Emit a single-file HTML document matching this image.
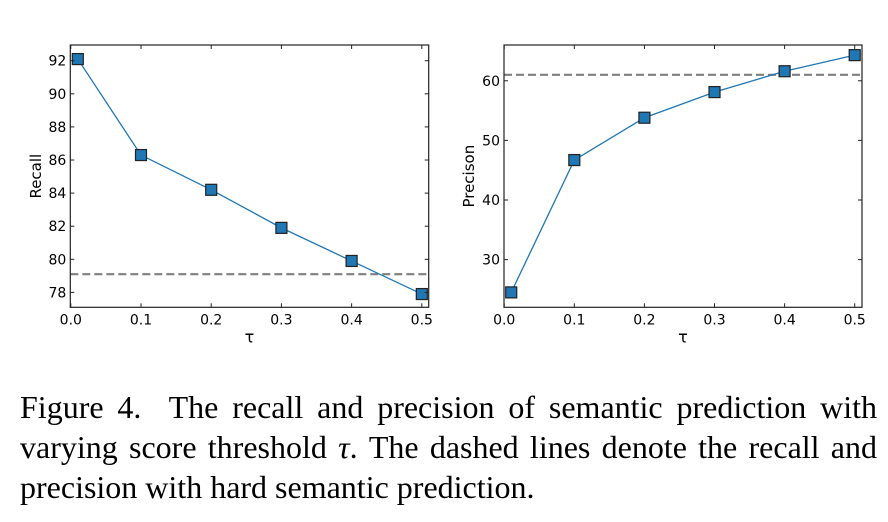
<!DOCTYPE html>
<html><head><meta charset="utf-8"><style>
body{margin:0;background:#fff;width:888px;height:522px;overflow:hidden;position:relative}
svg{position:absolute;left:0;top:0}
.cap{position:absolute;left:20px;width:857px;font-family:"Liberation Serif",serif;font-size:32px;color:#000;text-align:justify;text-align-last:justify;white-space:nowrap;line-height:34px}
.cap.last{text-align-last:left}
text{font-family:"DejaVu Sans","Liberation Sans",sans-serif}
</style></head><body>
<svg width="888" height="522"></svg>
<div class="cap" style="top:390px">Figure 4.&nbsp; The recall and precision of semantic prediction with</div>
<div class="cap" style="top:430px">varying score threshold <i>τ</i>. The dashed lines denote the recall and</div>
<div class="cap last" style="top:470px">precision with hard semantic prediction.</div>
<script>
const tau=[0.01,0.1,0.2,0.3,0.4,0.5];
const recall=[92.1,86.3,84.2,81.9,79.9,77.9];
const recallHard=79.1;
const precision=[24.5,46.7,53.8,58.1,61.6,64.3];
const precisionHard=61.0;
const xTicks=[0.0,0.1,0.2,0.3,0.4,0.5];
const recallTicks=[78,80,82,84,86,88,90,92];
const precisionTicks=[30,40,50,60];
const NS='http://www.w3.org/2000/svg';
const svg=document.querySelector('svg');
function mk(tag,attrs,parent){const e=document.createElementNS(NS,tag);for(const k in attrs)e.setAttribute(k,attrs[k]);(parent||svg).appendChild(e);return e;}
function chart(cfg){
  const g=mk('g',{});
  
  
  const L=cfg.left,R=cfg.right,T=45,B=307.3;
  const xs=v=>L+(v-cfg.x0)/(cfg.x1-cfg.x0)*(R-L);
  const ys=v=>B-(v-cfg.y0)/(cfg.y1-cfg.y0)*(B-T);
  const dash=mk('line',{x1:L,x2:R,y1:ys(cfg.hard),y2:ys(cfg.hard),stroke:'#7f7f7f','stroke-width':2.2,'stroke-dasharray':'8,4'},g);
  
  
  const pts=cfg.ys.map((v,i)=>xs(tau[i])+','+ys(v)).join(' ');
  const line=mk('polyline',{points:pts,fill:'none',stroke:'#1f77b4','stroke-width':1.3},g);
  
  
  cfg.ys.forEach((v,i)=>{
    const r=mk('rect',{x:xs(tau[i])-5.5,y:ys(v)-5.5,width:11,height:11,fill:'#1f77b4',stroke:'#222','stroke-width':1.2},g);
    
    
  });
  const fr=mk('rect',{x:L,y:T,width:R-L,height:B-T,fill:'none',stroke:'#222','stroke-width':1.2},g);
  
  
  xTicks.forEach(t=>{
    const x=xs(t);
    mk('line',{x1:x,x2:x,y1:B,y2:B-4,stroke:'#222'},g);
    mk('line',{x1:x,x2:x,y1:T,y2:T+4,stroke:'#222'},g);
    const tx=mk('text',{x:x,y:B+17,'text-anchor':'middle','font-size':14,fill:'#000'},g);
    tx.textContent=t.toFixed(1);
    
    
  });
  cfg.ticks.forEach(t=>{
    const y=ys(t);
    mk('line',{x1:L,x2:L+4,y1:y,y2:y,stroke:'#222'},g);
    mk('line',{x1:R,x2:R-4,y1:y,y2:y,stroke:'#222'},g);
    const tx=mk('text',{x:L-4,y:y+5,'text-anchor':'end','font-size':14,fill:'#000'},g);
    tx.textContent=t;
    
    
  });
  const xl=mk('text',{x:(L+R)/2,y:B+35,'text-anchor':'middle','font-size':16,fill:'#000'},g);
  xl.textContent='τ';
  
  
  const yl=mk('text',{x:cfg.ylx,y:(T+B)/2,'text-anchor':'middle','font-size':15,fill:'#000',transform:'rotate(-90 '+cfg.ylx+' '+(T+B)/2+')'},g);
  yl.textContent=cfg.label;
  
  
}
chart({name:'recall-chart',left:70.3,right:428.7,x0:-0.0007,x1:0.5098,y0:77.1,y1:92.95,ys:recall,hard:recallHard,ticks:recallTicks,label:'Recall',ylx:41});
chart({name:'precision-chart',left:504,right:862,x0:-0.0003,x1:0.5104,y0:22.0,y1:66.0,ys:precision,hard:precisionHard,ticks:precisionTicks,label:'Precison',ylx:474});
</script>
</body></html>
